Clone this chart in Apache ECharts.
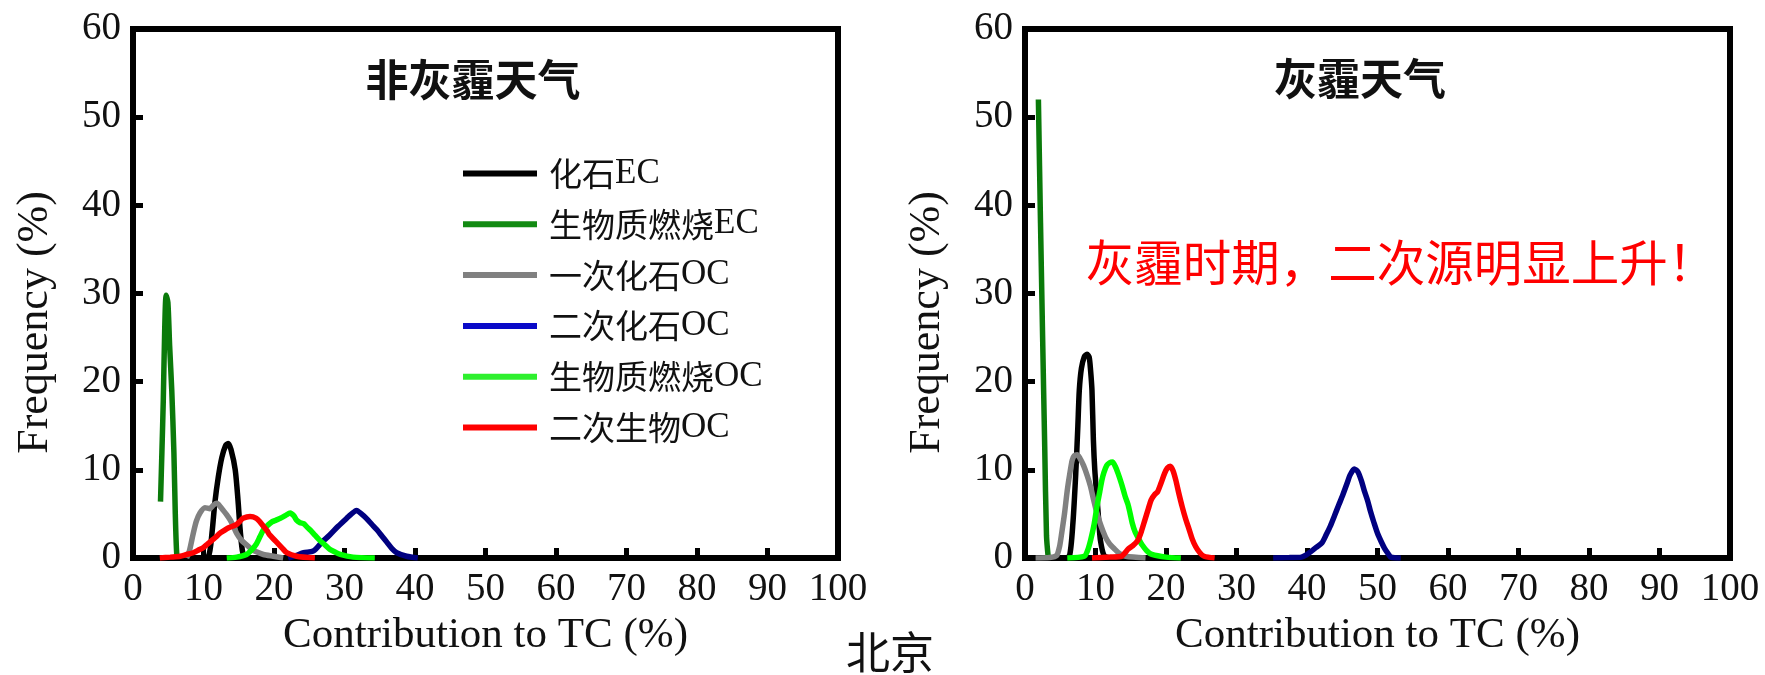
<!DOCTYPE html>
<html>
<head>
<meta charset="utf-8">
<script src="https://cdn.jsdelivr.net/npm/echarts@6/dist/echarts.min.js"></script>
<style>
html,body{margin:0;padding:0;background:#fff;}
#chart{width:1765px;height:675px;}
</style>
</head>
<body>
<div id="chart"></div>
<script>
// ---- series names (legend order) ----
const seriesNames = ['化石EC', '生物质燃烧EC', '一次化石OC', '二次化石OC', '生物质燃烧OC', '二次生物OC'];
const seriesColors = ['#000000', '#0a7a0a', '#808080', '#000080', '#00ff00', '#ff0000'];
const xTicks = [0, 10, 20, 30, 40, 50, 60, 70, 80, 90, 100];
const yTicks = [0, 10, 20, 30, 40, 50, 60];

// ---- non-haze (非灰霾天气): [contribution %, frequency %] ----
const nhFossilEC = [[9.5,0],[10.7,0.2],[11.2,2.8],[11.6,6.2],[12.1,9.2],[12.6,11.4],[13.1,12.7],[13.5,13.0],[13.9,12.3],[14.5,10.0],[14.9,6.5],[15.2,3.2],[15.6,0.5],[16.2,0],[17,0]];
const nhBiomassEC = [[3.9,6.4],[4.1,12],[4.3,18],[4.5,26],[4.7,29.8],[4.95,29],[5.2,24],[5.5,19],[5.8,12],[6.0,5],[6.2,0.5],[6.4,0]];
const nhPrimaryFossilOC = [[7.6,0],[8.0,0.8],[8.55,2.8],[9.0,4.2],[9.5,5.1],[10.2,5.7],[10.9,5.6],[11.4,6.0],[11.9,6.2],[12.4,5.8],[12.8,5.4],[13.3,4.9],[13.8,4.3],[14.3,3.5],[14.7,2.8],[15.4,2.0],[16.1,1.5],[16.8,1.0],[17.5,0.7],[18.5,0.4],[19.9,0.2],[21.3,0]];
const nhSecFossilOC = [[22,0],[23.2,0.3],[24.2,0.6],[25.6,0.8],[26.8,1.8],[27.9,2.6],[29.1,3.6],[30.3,4.5],[31.0,5.0],[31.7,5.4],[32.4,5.0],[33.1,4.5],[33.9,3.8],[34.6,3.2],[35.3,2.5],[36.0,1.8],[36.7,1.1],[37.4,0.6],[38.8,0.2],[40.4,0]];
const nhBiomassOC = [[13.3,0],[14.7,0.1],[16.1,0.4],[16.8,0.9],[17.5,1.6],[18.0,2.4],[18.5,3.2],[19.1,3.7],[19.7,4.1],[20.3,4.3],[20.9,4.5],[21.6,4.8],[22.3,5.1],[22.8,4.8],[23.2,4.3],[23.7,4.0],[24.2,3.9],[24.7,3.5],[25.1,3.2],[25.8,2.6],[26.5,2.0],[27.2,1.5],[27.9,1.0],[28.6,0.7],[29.4,0.4],[31.2,0.1],[34.3,0]];
const nhSecBioOC = [[3.8,0],[5.3,0.1],[6.7,0.2],[7.6,0.4],[8.55,0.6],[9.3,0.9],[10.0,1.2],[10.6,1.6],[11.2,2.0],[11.8,2.4],[12.3,2.8],[12.9,3.1],[13.5,3.4],[14.1,3.6],[14.7,3.8],[15.2,4.2],[15.6,4.5],[16.6,4.7],[17.5,4.5],[18.0,4.1],[18.5,3.6],[19.0,3.1],[19.4,2.6],[20.0,2.1],[20.6,1.6],[21.2,1.1],[21.8,0.6],[23.2,0.2],[25.8,0]];

// ---- haze (灰霾天气) ----
const hFossilEC = [[5.5,0],[6.3,0.2],[6.8,4],[7.2,9.6],[7.5,15],[7.7,19],[8.0,21.5],[8.4,22.8],[8.8,23.1],[9.1,22.8],[9.3,21.3],[9.5,19],[9.7,13.4],[9.9,10],[10.2,6.9],[10.5,3.8],[10.7,2],[11.2,0.3],[12,0]];
const hBiomassEC = [[1.9,52],[2.2,38],[2.5,25],[2.8,12.5],[3.05,2.5],[3.3,0]];
const hPrimaryFossilOC = [[1.5,0],[3.5,0.05],[4.5,0.3],[4.9,1.3],[5.2,2.8],[5.6,5],[6.0,7.7],[6.4,9.8],[6.7,11.1],[7.0,11.6],[7.4,11.7],[7.8,11.3],[8.3,10.5],[8.8,9.4],[9.3,8.1],[9.7,6.7],[10.2,5.1],[10.8,3.6],[11.4,2.4],[12.0,1.6],[12.6,1.1],[13.4,0.5],[14.3,0.2],[17.1,0]];
const hSecFossilOC = [[35.2,0],[37.5,0.05],[39.2,0.1],[40.0,0.4],[40.5,0.7],[41.3,1.2],[42.1,1.7],[42.7,2.6],[43.3,3.6],[43.9,4.8],[44.5,6.0],[45.1,7.2],[45.7,8.5],[46.1,9.4],[46.7,10.1],[47.2,9.8],[47.7,8.8],[48.1,7.7],[48.6,6.5],[49.0,5.3],[49.5,4.0],[50.0,2.8],[50.5,1.9],[51.0,1.1],[51.5,0.5],[51.9,0.1],[53.3,0]];
const hBiomassOC = [[6.0,0],[8.4,0.2],[8.9,0.9],[9.3,2],[9.8,3.8],[10.2,5.8],[10.6,7.5],[10.9,8.8],[11.2,9.7],[11.6,10.5],[12.0,10.8],[12.4,10.9],[12.8,10.4],[13.2,9.6],[13.7,8.4],[14.2,7.0],[14.6,6.1],[14.9,5.1],[15.2,4.0],[15.6,3.0],[16.1,2.2],[16.6,1.5],[17.3,0.8],[18.0,0.4],[20,0.1],[22.1,0]];
const hSecBioOC = [[9.5,0],[12,0.1],[13.7,0.2],[14.2,0.6],[14.6,1.0],[15.3,1.4],[16.0,2.0],[16.5,3.0],[17.0,4.3],[17.5,5.6],[17.9,6.6],[18.4,7.2],[18.8,7.5],[19.3,8.5],[19.8,9.6],[20.2,10.2],[20.6,10.4],[21.0,9.9],[21.4,8.8],[21.8,7.4],[22.3,5.8],[22.8,4.4],[23.3,3.2],[23.7,2.2],[24.2,1.3],[24.8,0.6],[25.4,0.2],[26.9,0]];

// ---- texts ----
const panelTitles = ['非灰霾天气', '灰霾天气'];
const annotationText = '灰霾时期，二次源明显上升！';
const cityText = '北京';
const xAxisName = 'Contribution to TC (%)';
const yAxisName = 'Frequency (%)';

const nonHazeData = [nhFossilEC, nhBiomassEC, nhPrimaryFossilOC, nhSecFossilOC, nhBiomassOC, nhSecBioOC];
const hazeData = [hFossilEC, hBiomassEC, hPrimaryFossilOC, hSecFossilOC, hBiomassOC, hSecBioOC];

const SERIF = 'Liberation Serif';
const CJK = 'Noto Sans CJK SC';

function makeX(i) {
  return {
    type: 'value', gridIndex: i, min: xTicks[0], max: xTicks[xTicks.length - 1], interval: 10,
    name: xAxisName, nameLocation: 'middle', nameGap: 53,
    nameTextStyle: { fontFamily: SERIF, fontSize: 43, color: '#111' },
    axisLine: { show: true, lineStyle: { color: '#000', width: 6 } },
    axisTick: { show: true, inside: true, length: 10, lineStyle: { color: '#000', width: 5 } },
    axisLabel: { margin: 12, fontFamily: SERIF, fontSize: 39, color: '#111' },
    splitLine: { show: false }
  };
}
function makeY(i) {
  return {
    type: 'value', gridIndex: i, min: yTicks[0], max: yTicks[yTicks.length - 1], interval: 10,
    name: yAxisName, nameLocation: 'middle', nameGap: 76,
    nameTextStyle: { fontFamily: SERIF, fontSize: 44, color: '#111', padding: [0, 58, 0, 0] },
    axisLine: { show: true, lineStyle: { color: '#000', width: 6 } },
    axisTick: { show: true, inside: true, length: 10, lineStyle: { color: '#000', width: 5 } },
    axisLabel: { margin: 12, fontFamily: SERIF, fontSize: 39, color: '#111' },
    splitLine: { show: false }
  };
}

const series = [];
[nonHazeData, hazeData].forEach(function (group, gi) {
  group.forEach(function (arr, si) {
    series.push({
      name: seriesNames[si], type: 'line', xAxisIndex: gi, yAxisIndex: gi,
      data: arr, showSymbol: false, symbol: 'none', smooth: 0.25,
      lineStyle: { color: seriesColors[si], width: 5.5 },
      itemStyle: { color: seriesColors[si] },
      z: 3 + si
    });
  });
});

const legendColors = ['#000000', '#128a12', '#808080', '#0a0ac8', '#2ef02e', '#ff0000'];

const option = {
  backgroundColor: '#ffffff',
  animation: false,
  grid: [
    { left: 133, top: 29, width: 705, height: 529, show: true, borderColor: '#000', borderWidth: 6, backgroundColor: 'transparent' },
    { left: 1025, top: 29, width: 705, height: 529, show: true, borderColor: '#000', borderWidth: 6, backgroundColor: 'transparent' }
  ],
  xAxis: [makeX(0), makeX(1)],
  yAxis: [makeY(0), makeY(1)],
  legend: {
    orient: 'vertical', left: 458, top: 151, padding: 5, itemWidth: 74, itemHeight: 6, itemGap: 15.8,
    icon: 'rect', selectedMode: false,
    data: seriesNames.map(function (n, i) { return { name: n, itemStyle: { color: legendColors[i] } }; }),
    formatter: function (name) {
      const m = name.match(/^(.*?)([A-Z]+)$/);
      return '{c|' + m[1] + '}{e|' + m[2] + '}';
    },
    textStyle: {
      padding: [0, 0, 0, 7], lineHeight: 30,
      rich: {
        c: { fontFamily: CJK, fontSize: 33, color: '#111', lineHeight: 30 },
        e: { fontFamily: SERIF, fontSize: 35, color: '#111', lineHeight: 30 }
      }
    }
  },
  graphic: [
    { type: 'text', x: 473, y: 80, style: { text: panelTitles[0], fontFamily: CJK, fontSize: 43, fontWeight: 'bold', fill: '#111', align: 'center', verticalAlign: 'middle' } },
    { type: 'text', x: 1360, y: 79, style: { text: panelTitles[1], fontFamily: CJK, fontSize: 43, fontWeight: 'bold', fill: '#111', align: 'center', verticalAlign: 'middle' } },
    { type: 'text', x: 1401, y: 263, style: { text: annotationText, fontFamily: CJK, fontSize: 48.5, fill: '#ff0000', align: 'center', verticalAlign: 'middle' } },
    { type: 'text', x: 890, y: 652, style: { text: cityText, fontFamily: CJK, fontSize: 44, fill: '#111', align: 'center', verticalAlign: 'middle' } }
  ],
  series: series
};

const chart = echarts.init(document.getElementById('chart'), null, { renderer: 'canvas' });
chart.setOption(option);
</script>
</body>
</html>
